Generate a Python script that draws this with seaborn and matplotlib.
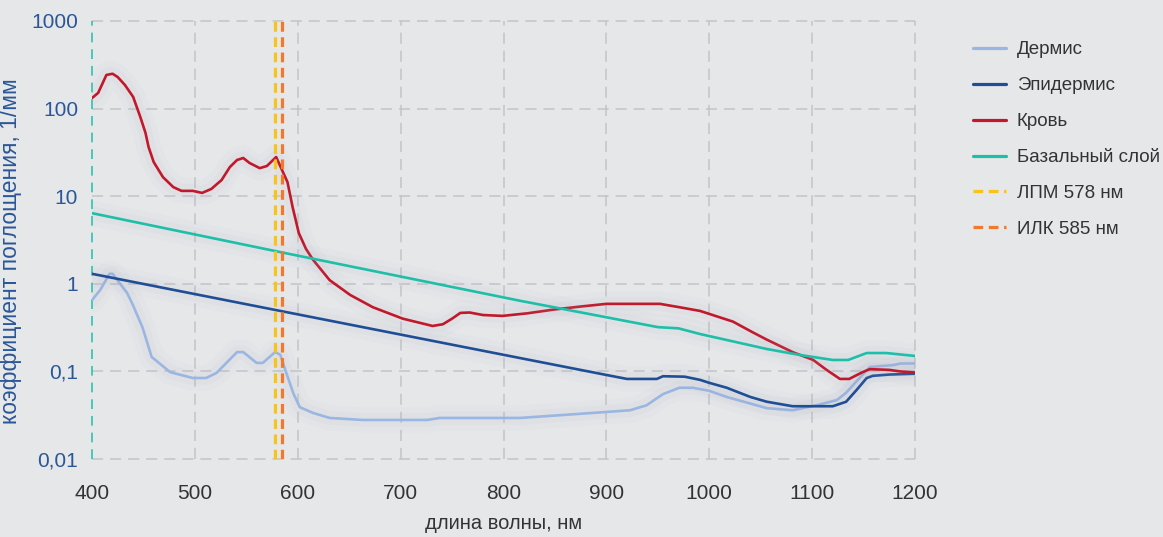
import matplotlib
matplotlib.use("Agg")
import matplotlib.pyplot as plt
import matplotlib.patheffects as pe
from matplotlib.lines import Line2D
import seaborn as sns
import pandas as pd

# ---------------- data ----------------
dermis_nm = [400, 408, 417, 420, 434, 439, 449, 458, 476, 498, 511, 521, 541, 547, 560, 566, 578, 583,
             589, 596, 602, 615, 631, 663, 726, 738, 816, 858, 900, 923, 939, 955, 971, 984, 1000, 1017,
             1056, 1081, 1104, 1124, 1133, 1146, 1156, 1179, 1186, 1200]
dermis_val = [0.65, 0.85, 1.3, 1.3, 0.79, 0.6, 0.32, 0.146, 0.098, 0.084, 0.084, 0.096, 0.166, 0.166,
              0.125, 0.125, 0.166, 0.155, 0.095, 0.055, 0.039, 0.0335, 0.0294, 0.0279, 0.0279, 0.0294,
              0.0294, 0.0318, 0.0344, 0.036, 0.041, 0.055, 0.065, 0.065, 0.06, 0.051, 0.038, 0.036,
              0.041, 0.047, 0.057, 0.084, 0.112, 0.118, 0.123, 0.123]

epid_nm = [400, 583, 816, 900, 920, 949, 955, 976, 991, 1000, 1017, 1040, 1056, 1081, 1120, 1133,
           1143, 1153, 1159, 1175, 1200]
epid_val = [1.3, 0.49, 0.142, 0.091, 0.082, 0.082, 0.088, 0.087, 0.08, 0.074, 0.065, 0.051, 0.045,
            0.040, 0.040, 0.045, 0.061, 0.084, 0.089, 0.092, 0.094]

blood_nm = [400, 406, 414, 420, 425, 432, 440, 447, 452, 455, 460, 469, 479, 487, 498, 507, 516, 526,
            534, 541, 547, 553, 563, 570, 579, 586, 590, 595, 601, 608, 615, 631, 651, 673, 702, 731,
            741, 750, 758, 767, 780, 799, 823, 850, 875, 900, 952, 971, 991, 1023, 1042, 1056, 1081,
            1101, 1114, 1127, 1136, 1149, 1156, 1175, 1185, 1200]
blood_val = [132, 151, 242, 250, 229, 186, 136, 80, 52.8, 36.4, 24.5, 16.5, 12.7, 11.5, 11.5, 10.9,
             12.1, 15.3, 21.5, 25.9, 27.3, 24, 20.9, 22.1, 28, 18.4, 14.5, 7.5, 3.8, 2.5, 1.87, 1.1,
             0.745, 0.54, 0.40, 0.33, 0.345, 0.40, 0.465, 0.47, 0.44, 0.43, 0.46, 0.51, 0.55, 0.59,
             0.59, 0.54, 0.49, 0.37, 0.28, 0.23, 0.166, 0.135, 0.104, 0.082, 0.082, 0.098, 0.106,
             0.104, 0.1, 0.097]

basal_nm = [400, 583, 816, 950, 970, 991, 1056, 1088, 1120, 1135, 1153, 1172, 1200]
basal_val = [6.4, 2.3, 0.64, 0.32, 0.31, 0.267, 0.18, 0.154, 0.135, 0.135, 0.162, 0.162, 0.15]

laser_nm = [578, 585]
laser_labels = ["ЛПМ 578 нм", "ИЛК 585 нм"]

series_names = ["Дермис", "Эпидермис", "Кровь", "Базальный слой"]

x_ticks = [400, 500, 600, 700, 800, 900, 1000, 1100, 1200]
y_ticks = [0.01, 0.1, 1, 10, 100, 1000]
y_tick_labels = ["0,01", "0,1", "1", "10", "100", "1000"]

# ---------------- style ----------------
BG = "#e6e7e9"
C_DERM = "#9ab6e2"
C_EPID = "#1f4e96"
C_BLOOD = "#c2182b"
C_BASAL = "#1dbfa9"
C_YEL = "#f9c41a"
C_ORA = "#f07a2b"
TICK_BLUE = "#2b5797"
TXT = "#333333"

sns.set_theme(style="white")
plt.rcParams["font.family"] = ["Liberation Sans", "DejaVu Sans"]
plt.rcParams["lines.scale_dashes"] = False

fig = plt.figure(figsize=(11.63, 5.37), dpi=100, facecolor=BG)
ax = fig.add_axes([0.0791, 0.1453, 0.7077, 0.8156])
ax.set_facecolor(BG)

frames = []
for name, nm, val in [(series_names[0], dermis_nm, dermis_val),
                      (series_names[1], epid_nm, epid_val),
                      (series_names[2], blood_nm, blood_val),
                      (series_names[3], basal_nm, basal_val)]:
    frames.append(pd.DataFrame({"nm": nm, "val": val, "series": name}))
df = pd.concat(frames, ignore_index=True)

palette = {series_names[0]: C_DERM, series_names[1]: C_EPID,
           series_names[2]: C_BLOOD, series_names[3]: C_BASAL}

shadow = [pe.Stroke(linewidth=18, foreground="#aab0c4", alpha=0.05),
          pe.Stroke(linewidth=10, foreground="#aab0c4", alpha=0.06),
          pe.Normal()]

sns.lineplot(data=df, x="nm", y="val", hue="series", palette=palette,
             hue_order=series_names, sort=False, estimator=None,
             linewidth=1.9, ax=ax, legend=False, zorder=3)
for ln in ax.get_lines():
    ln.set_path_effects(shadow)

ax.set_yscale("log")
ax.set_xlim(400, 1200)
ax.set_ylim(0.01, 1000)

ax.set_xticks(x_ticks)
ax.set_xticklabels([str(t) for t in x_ticks])
ax.set_yticks(y_ticks)
ax.set_yticklabels(y_tick_labels)
ax.minorticks_off()

ax.grid(True, which="major", color="#c3c4c7", linestyle=(0, (8, 5)), linewidth=1.1, zorder=1)
ax.set_axisbelow(True)
ax.xaxis.get_gridlines()[0].set_visible(False)
for gl in ax.xaxis.get_gridlines() + ax.yaxis.get_gridlines():
    gl.set_clip_on(False)

for s in ax.spines.values():
    s.set_visible(False)

# left teal dashed edge
ax.axvline(x_ticks[0], color=C_BASAL, linestyle=(0, (7, 5)), linewidth=1.1, zorder=2, clip_on=False)

# laser lines
for nm, col, lab in zip(laser_nm, [C_YEL, C_ORA], laser_labels):
    ax.axvline(nm, color=col, linestyle=(0, (7, 4)), linewidth=2.3, zorder=4, label=lab)

ax.tick_params(axis="both", length=0)
ax.tick_params(axis="y", labelsize=15, labelcolor=TICK_BLUE, pad=10)
ax.tick_params(axis="x", labelsize=15, labelcolor=TXT, pad=18)

ax.set_xlabel("длина волны, нм", fontsize=14.5, color=TXT, labelpad=8)
ax.set_ylabel("коэффициент поглощения, 1/мм", fontsize=16.5, color=TICK_BLUE)
ax.yaxis.set_label_coords(-0.085, 0.475)

# legend
handles = [Line2D([], [], color=C_DERM, lw=2.3),
           Line2D([], [], color=C_EPID, lw=2.3),
           Line2D([], [], color=C_BLOOD, lw=2.3),
           Line2D([], [], color=C_BASAL, lw=2.3),
           Line2D([], [], color=C_YEL, lw=2.3, linestyle=(0, (7, 4))),
           Line2D([], [], color=C_ORA, lw=2.3, linestyle=(0, (7, 4)))]
labels = series_names + laser_labels
leg = fig.legend(handles, labels, loc="upper left", bbox_to_anchor=(0.830, 0.937),
                 frameon=False, fontsize=13.5, handlelength=1.75, handletextpad=0.6,
                 labelspacing=1.0, borderaxespad=0)
for t in leg.get_texts():
    t.set_color(TXT)

fig.savefig("out.png", dpi=100, facecolor=BG)
